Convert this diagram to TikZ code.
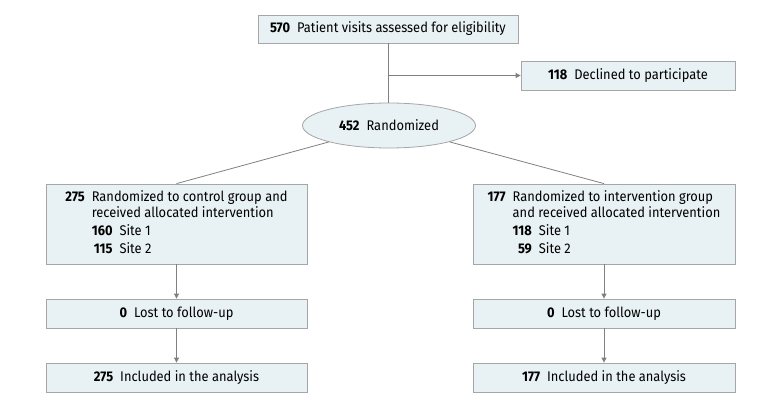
\documentclass[tikz,border=0pt]{standalone}
\usepackage{fontspec}
\setmainfont[FakeStretch=0.92]{Fira Sans}
\usetikzlibrary{arrows.meta,shapes.geometric}
\definecolor{boxfill}{HTML}{E8F1F3}
\definecolor{boxline}{HTML}{A6A6A6}
\definecolor{conn}{HTML}{808080}
\begin{document}
\begin{tikzpicture}[x=1pt,y=-1pt,
  box/.style={draw=boxline, fill=boxfill, line width=0.8pt, inner sep=0pt, font=\fontsize{14}{16.5}\selectfont, text=black},
  ell/.style={ellipse, draw=boxline, fill=boxfill, line width=0.8pt, inner sep=0pt, font=\fontsize{14}{16.5}\selectfont},
  conline/.style={draw=conn, line width=0.8pt},
  arr/.style={conline, -{Triangle[length=5pt,width=5pt]}}]
\useasboundingbox (0,0) rectangle (780,405);
\node[box, minimum width=260pt, minimum height=28pt] (top) at (388,29) {\textbf{570}\enspace Patient visits assessed for eligibility};
\node[box, minimum width=214pt, minimum height=29pt] (decl) at (628,75.5) {\textbf{118}\enspace Declined to participate};
\node[ell, minimum width=173pt, minimum height=45pt] (rand) at (389,125.5) {\textbf{452}\enspace Randomized};
\coordinate (branch) at (top.south |- decl.west);
\node[box, minimum width=261pt, minimum height=80pt] (lbox) at (176.5,224) {%
  \begin{tabular}{@{}r@{\enspace}l@{}}
  \textbf{275} & Randomized to control group and\\[-0.5pt]
   & received allocated intervention\\[1.5pt]
   & \begin{tabular}[t]{@{}r@{\enspace}l@{}}\textbf{160} & Site 1\\[1.5pt] \textbf{115} & Site 2\end{tabular}
  \end{tabular}};
\node[box, minimum width=262pt, minimum height=80pt] (rbox) at (604,224) {%
  \begin{tabular}{@{}r@{\enspace}l@{}}
  \textbf{177} & Randomized to intervention group\\[-0.5pt]
   & and received allocated intervention\\[1.5pt]
   & \begin{tabular}[t]{@{}r@{\enspace}l@{}}\textbf{118} & Site 1\\[1.5pt] \textbf{59} & Site 2\end{tabular}
  \end{tabular}};
\node[box, minimum width=261pt, minimum height=29pt] (llost) at (176.5,313.5) {\textbf{0}\enspace Lost to follow-up};
\node[box, minimum width=262pt, minimum height=29pt] (rlost) at (604,313.5) {\textbf{0}\enspace Lost to follow-up};
\node[box, minimum width=261pt, minimum height=29pt] (linc) at (176.5,377.5) {\textbf{275}\enspace Included in the analysis};
\node[box, minimum width=262pt, minimum height=29pt] (rinc) at (604,377.5) {\textbf{177}\enspace Included in the analysis};
\draw[conline] (top.south) -- (top.south |- rand.north);
\draw[arr] (branch) -- (decl.west);
\draw[conline] (rand) -- (lbox.north);
\draw[conline] (rand) -- (rbox.north);
\draw[arr] (lbox.south) -- (llost.north);
\draw[arr] (llost.south) -- (linc.north);
\draw[arr] (rbox.south) -- (rlost.north);
\draw[arr] (rlost.south) -- (rinc.north);
\end{tikzpicture}
\end{document}
